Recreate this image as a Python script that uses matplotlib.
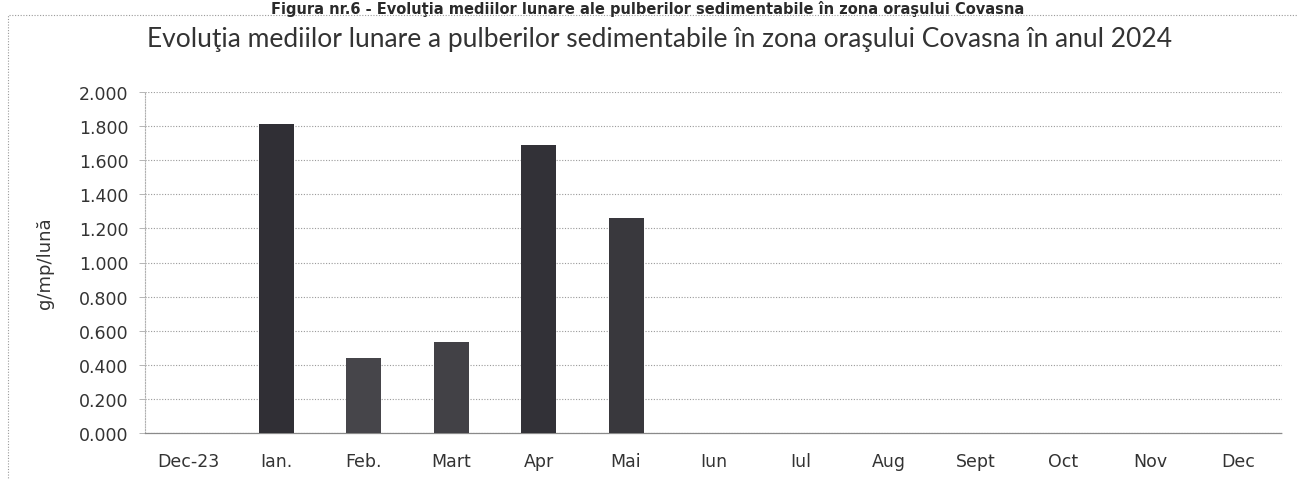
import numpy as np
import matplotlib.pyplot as plt
from matplotlib.patches import Rectangle

# monthly means of sedimentable dust, g/mp/luna
months = ["Dec-23", "Ian.", "Feb.", "Mart", "Apr", "Mai", "Iun", "Iul", "Aug", "Sept", "Oct", "Nov", "Dec"]
values = [np.nan, 1.81, 0.44, 0.535, 1.69, 1.26, np.nan, np.nan, np.nan, np.nan, np.nan, np.nan, np.nan]
bar_colors = ["#333238", "#302f35", "#46454a", "#424146", "#323137", "#39383d",
              "#333238", "#333238", "#333238", "#333238", "#333238", "#333238", "#333238"]
yticks = [0.0, 0.2, 0.4, 0.6, 0.8, 1.0, 1.2, 1.4, 1.6, 1.8, 2.0]

fig = plt.figure(figsize=(12.98, 4.81), dpi=100)
ax = fig.add_axes([145/1298, 1 - 434/481, (1282 - 145)/1298, (434 - 93)/481])

x = np.arange(len(months))
ax.bar(x, np.nan_to_num(values), width=0.4, color=bar_colors, zorder=3)

ax.set_xlim(-0.5, len(months) - 0.5)
ax.set_ylim(0, 2.0)
ax.set_yticks(yticks)
ax.set_yticklabels(["{:.3f}".format(v) for v in yticks])
ax.set_xticks(x)
ax.set_xticklabels(months)
ax.tick_params(axis="y", labelsize=12.5, colors="#333333", length=4, width=0.6, direction="out", pad=8, color="#aaaaaa")
ax.tick_params(axis="x", labelsize=12.5, colors="#333333", length=0, pad=14)

ax.grid(axis="y", linestyle=(0, (1, 1.5)), color="#9a9a9a", linewidth=0.8, zorder=0)
for s in ["top", "right"]:
    ax.spines[s].set_visible(False)
ax.spines["left"].set_color("#b0b0b0")
ax.spines["left"].set_linestyle((0, (1, 1.5)))
ax.spines["left"].set_linewidth(0.8)
ax.spines["bottom"].set_color("#8a8a8a")
ax.spines["bottom"].set_linestyle((0, (1, 1)))
ax.spines["bottom"].set_linewidth(0.9)

ax.set_ylabel("g/mp/lună", fontsize=13, color="#333333")
ax.yaxis.set_label_coords(-0.08, 0.5)

fig.text(660/1298, 1 - 40/481, "Evoluţia mediilor lunare a pulberilor sedimentabile în zona oraşului Covasna în anul 2024",
         ha="center", va="center", fontsize=19, family="Lato", color="#333333")

# caption that sits at the very top of the scan
fig.text(648/1298, 1 - 1/481, "Figura nr.6 - Evoluţia mediilor lunare ale pulberilor sedimentabile în zona oraşului Covasna",
         ha="center", va="top", fontsize=10.5, fontweight="bold", color="#2a2a2a")

# dotted frame of the chart area
fig.patches.append(Rectangle((8/1298, -0.05), 1.2, 1 - 16/481 + 0.05, transform=fig.transFigure,
                             fill=False, edgecolor="#9a9a9a", linestyle=(0, (1, 1.5)), linewidth=0.8))

fig.savefig("out.png", dpi=100, facecolor="white")
